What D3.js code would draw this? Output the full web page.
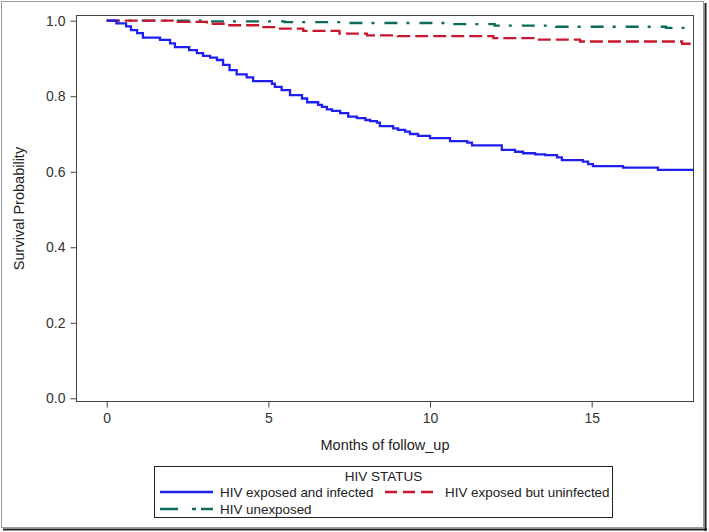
<!DOCTYPE html>
<html>
<head>
<meta charset="utf-8">
<script src="https://cdn.jsdelivr.net/npm/d3@7"></script>
<style>
  html, body { margin: 0; padding: 0; background: #fff; }
  svg { display: block; font-family: "Liberation Sans", Arial, sans-serif; }
</style>
</head>
<body>
<svg id="chart" width="709" height="532"></svg>
<script>
// ---- Data ----
const seriesNames = ["HIV exposed and infected", "HIV exposed but uninfected", "HIV unexposed"];

const infectedTimes = [0, 0.3, 0.6, 0.75, 0.94, 1.12, 1.65, 1.96, 2.11, 2.55, 2.79, 2.98, 3.2, 3.41, 3.6, 3.8, 4.02, 4.33, 4.53, 5.11, 5.2, 5.41, 5.67, 6.04, 6.2, 6.54, 6.66, 6.81, 6.97, 7.22, 7.47, 7.74, 8.0, 8.15, 8.36, 8.45, 8.86, 9.01, 9.23, 9.38, 9.63, 10.0, 10.62, 11.15, 11.3, 12.22, 12.63, 12.88, 13.25, 13.56, 13.93, 14.08, 14.73, 14.89, 15.04, 15.97, 17.05, 18.3];
const infectedSurv  = [1.0, 0.993, 0.985, 0.975, 0.967, 0.955, 0.949, 0.94, 0.93, 0.922, 0.914, 0.907, 0.902, 0.896, 0.883, 0.869, 0.858, 0.85, 0.84, 0.833, 0.825, 0.816, 0.803, 0.794, 0.784, 0.777, 0.772, 0.765, 0.761, 0.755, 0.746, 0.742, 0.737, 0.734, 0.73, 0.721, 0.715, 0.711, 0.706, 0.7, 0.695, 0.689, 0.681, 0.677, 0.67, 0.658, 0.653, 0.649, 0.646, 0.644, 0.638, 0.631, 0.627, 0.62, 0.615, 0.611, 0.605, 0.605];

const uninfectedTimes = [0, 2.2, 3.1, 3.7, 4.74, 5.36, 6.08, 7.2, 8.05, 9.0, 11.96, 13.2, 14.64, 17.8, 18.3];
const uninfectedSurv  = [1.0, 0.997, 0.992, 0.988, 0.983, 0.979, 0.973, 0.966, 0.961, 0.959, 0.954, 0.95, 0.945, 0.939, 0.939];

const unexposedTimes = [0, 3.2, 5.5, 7.4, 10.5, 12.0, 13.9, 17.3, 18.3];
const unexposedSurv  = [1.0, 0.998, 0.996, 0.994, 0.991, 0.987, 0.984, 0.981, 0.981];

const xTicks = [0, 5, 10, 15];
const yTicks = [0.0, 0.2, 0.4, 0.6, 0.8, 1.0];
const xLabel = "Months of follow_up";
const yLabel = "Survival Probability";
const legendTitle = "HIV STATUS";

// ---- Layout / style ----
const colors = ["#1f1ff0", "#c8172e", "#0b6b5c"];
const dashes = [null, "13,5", "13,9,3,10"];
const legendDashes = [null, "12,6", "18,14,4,5,12"];
const legendLens = [53, 48, 53];

const svg = d3.select("#chart");
const plot = { left: 76.5, right: 693.5, top: 15.5, bottom: 401.5 };

const x = d3.scaleLinear().domain([-0.934, 18.15]).range([plot.left, plot.right]);
const y = d3.scaleLinear().domain([-0.0085, 1.0138]).range([plot.bottom, plot.top]);

// outer frame
svg.append("rect").attr("x", 1.5).attr("y", 1.5).attr("width", 702).attr("height", 526)
  .attr("fill", "none").attr("stroke", "#9a9a9a").attr("stroke-width", 1);
svg.append("line").attr("x1", 705.5).attr("x2", 705.5).attr("y1", 3).attr("y2", 531)
  .attr("stroke", "#222").attr("stroke-width", 2);
svg.append("line").attr("x1", 3).attr("x2", 707).attr("y1", 529.5).attr("y2", 529.5)
  .attr("stroke", "#222").attr("stroke-width", 2);

// clip
svg.append("clipPath").attr("id", "clip").append("rect")
  .attr("x", plot.left).attr("y", plot.top)
  .attr("width", plot.right - plot.left).attr("height", plot.bottom - plot.top);

// axes
const yAxis = d3.axisLeft(y).tickValues(yTicks).tickFormat(d3.format(".1f")).tickSize(6).tickPadding(5);
const gy = svg.append("g").attr("transform", `translate(${plot.left},0)`).call(yAxis);
const xAxis = d3.axisBottom(x).tickValues(xTicks).tickFormat(d3.format("d")).tickSize(6).tickPadding(6);
const gx = svg.append("g").attr("transform", `translate(0,${plot.bottom})`).call(xAxis);
[gx, gy].forEach(g => {
  g.select(".domain").remove();
  g.selectAll(".tick line").attr("stroke", "#444");
  g.selectAll(".tick text").attr("fill", "#333").style("font-size", "14px")
    .style("font-family", "'Liberation Sans', Arial, sans-serif");
});

// plot frame
svg.append("rect").attr("x", plot.left).attr("y", plot.top)
  .attr("width", plot.right - plot.left).attr("height", plot.bottom - plot.top)
  .attr("fill", "none").attr("stroke", "#444").attr("stroke-width", 1);

// curves
const series = [
  { times: infectedTimes, surv: infectedSurv },
  { times: uninfectedTimes, surv: uninfectedSurv },
  { times: unexposedTimes, surv: unexposedSurv }
];
const line = d3.line().x(d => x(d[0])).y(d => y(d[1])).curve(d3.curveStepAfter);
const gLines = svg.append("g").attr("clip-path", "url(#clip)");
[2, 1, 0].forEach(i => {
  const s = series[i];
  const pts = s.times.map((t, k) => [t, s.surv[k]]);
  gLines.append("path").attr("d", line(pts))
    .attr("fill", "none").attr("stroke", colors[i]).attr("stroke-width", 2.3)
    .attr("stroke-dasharray", dashes[i]);
});

// axis labels
svg.append("text").attr("x", (plot.left + plot.right) / 2).attr("y", 450)
  .attr("text-anchor", "middle").attr("fill", "#222").style("font-size", "14.5px").text(xLabel);
svg.append("text").attr("transform", `translate(24,${(plot.top + plot.bottom) / 2}) rotate(-90)`)
  .attr("text-anchor", "middle").attr("fill", "#222").style("font-size", "14.5px").text(yLabel);

// legend
const lg = svg.append("g");
lg.append("rect").attr("x", 154.5).attr("y", 466.5).attr("width", 458).attr("height", 51)
  .attr("fill", "none").attr("stroke", "#222").attr("stroke-width", 1);
lg.append("text").attr("x", 383.5).attr("y", 481).attr("text-anchor", "middle")
  .attr("fill", "#222").style("font-size", "13.5px").text(legendTitle);
const legendItems = [
  { sx: 160, tx: 220, y: 492 },
  { sx: 385, tx: 445, y: 492 },
  { sx: 160, tx: 220, y: 509 }
];
legendItems.forEach((it, i) => {
  lg.append("line").attr("x1", it.sx).attr("x2", it.sx + legendLens[i]).attr("y1", it.y).attr("y2", it.y)
    .attr("stroke", colors[i]).attr("stroke-width", 2.3).attr("stroke-dasharray", legendDashes[i]);
  lg.append("text").attr("x", it.tx).attr("y", it.y + 5).attr("fill", "#222")
    .style("font-size", "13.4px").text(seriesNames[i]);
});
</script>
</body>
</html>
